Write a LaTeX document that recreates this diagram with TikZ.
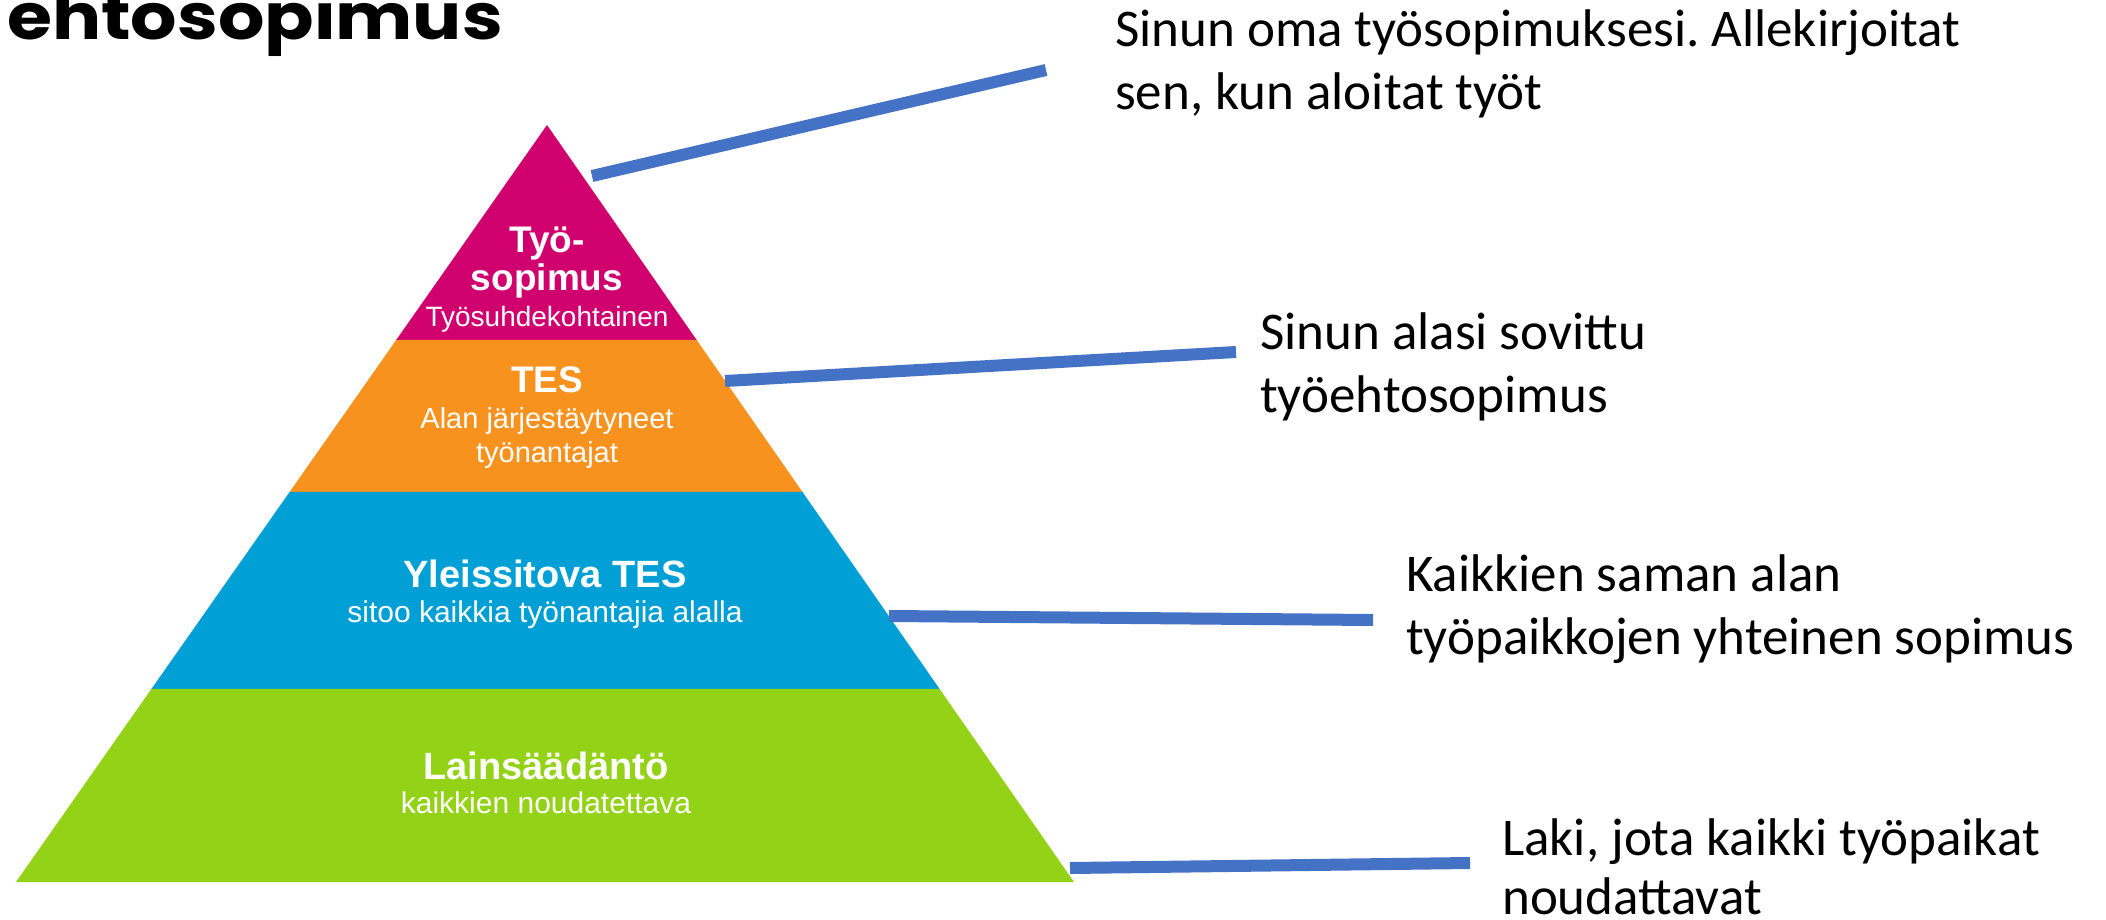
\documentclass[tikz,border=0pt]{standalone}
\usepackage{fontspec}
\setmainfont{Carlito}
\newfontfamily\pyrfont{Liberation Sans}
\newfontfamily\titlefont{Poppins}
\usetikzlibrary{calc}
\frenchspacing
\definecolor{magentaL}{RGB}{208,0,111}
\definecolor{orangeL}{RGB}{247,146,30}
\definecolor{blueL}{RGB}{0,160,214}
\definecolor{greenL}{RGB}{147,210,22}
\definecolor{conn}{RGB}{68,114,196}
\tikzset{
  pbold/.style={inner sep=0pt, anchor=base, text=white, font=\pyrfont\bfseries\fontsize{37}{37}\selectfont},
  preg/.style={inner sep=0pt, anchor=base, text=white, font=\pyrfont\fontsize{28}{28}\selectfont},
  pboldL/.style={pbold, font=\pyrfont\bfseries\fontsize{38}{38}\selectfont},
  pregL/.style={preg, font=\pyrfont\fontsize{30}{30}\selectfont},
  desc/.style={inner sep=0pt, anchor=base west, text=black, font=\fontsize{53}{63}\selectfont},
  titlestyle/.style={inner sep=0pt, anchor=base east, text=black, xscale=1.14, font=\titlefont\bfseries\fontsize{64}{64}\selectfont},
  connector/.style={draw=conn, line width=12pt}
}
\begin{document}
\begin{tikzpicture}[x=1pt,y=-1pt]
\useasboundingbox (0,0) rectangle (2106,920);
\fill[white] (0,0) rectangle (2106,920);
% title
\node[titlestyle] (title) at (503,40) {ehtosopimus};
% pyramid
\coordinate (apex) at (547,125);
\coordinate (bl) at (16,882);
\coordinate (br) at (1074,882);
\coordinate (m1) at ($(apex)!0.2840!(bl)$);
\coordinate (m2) at ($(apex)!0.2840!(br)$);
\coordinate (o1) at ($(apex)!0.4848!(bl)$);
\coordinate (o2) at ($(apex)!0.4848!(br)$);
\coordinate (b1) at ($(apex)!0.7450!(bl)$);
\coordinate (b2) at ($(apex)!0.7450!(br)$);
\fill[magentaL] (apex) -- (m2) -- (m1) -- cycle;
\fill[orangeL] (m1) -- (m2) -- (o2) -- (o1) -- cycle;
\fill[blueL] (o1) -- (o2) -- (b2) -- (b1) -- cycle;
\fill[greenL] (b1) -- (b2) -- (br) -- (bl) -- cycle;
% layer texts
\node[pbold] (ts1) at (547,252) {Työ-};
\node[pbold] (ts2) at (547,290) {sopimus};
\node[preg] (ts3) at (547,326) {Työsuhdekohtainen};
\node[pbold] (tes1) at (547,392) {TES};
\node[preg, font=\pyrfont\fontsize{29}{29}\selectfont] (tes2) at (547,428) {Alan järjestäytyneet};
\node[preg, font=\pyrfont\fontsize{29}{29}\selectfont] (tes3) at (547,462) {työnantajat};
\node[pboldL] (yt1) at (545,587) {Yleissitova TES};
\node[pregL] (yt2) at (545,622) {sitoo kaikkia työnantajia alalla};
\node[pboldL] (la1) at (546,779) {Lainsäädäntö};
\node[pregL] (la2) at (546,813) {kaikkien noudatettava};
% connectors
\coordinate (c1a) at (592,176);
\coordinate (c1b) at (1046,70);
\coordinate (c2a) at (725,381);
\coordinate (c2b) at (1236,352);
\coordinate (c3a) at (889,616);
\coordinate (c3b) at (1373,620);
\coordinate (c4a) at (1070,868);
\coordinate (c4b) at (1470,863);
\draw[connector] (c1a) -- (c1b);
\draw[connector] (c2a) -- (c2b);
\draw[connector] (c3a) -- (c3b);
\draw[connector] (c4a) -- (c4b);
% descriptions
\node[desc] (d1a) at (1115,47) {Sinun oma työsopimuksesi. Allekirjoitat};
\node[desc] (d1b) at (1115,110) {sen, kun aloitat työt};
\node[desc] (d2a) at (1260,349) {Sinun alasi sovittu};
\node[desc] (d2b) at (1260,412) {työehtosopimus};
\node[desc] (d3a) at (1406,591) {Kaikkien saman alan};
\node[desc] (d3b) at (1406,654) {työpaikkojen yhteinen sopimus};
\node[desc] (d4a) at (1502,855) {Laki, jota kaikki työpaikat};
\node[desc] (d4b) at (1502,914) {noudattavat};
\end{tikzpicture}
\end{document}
